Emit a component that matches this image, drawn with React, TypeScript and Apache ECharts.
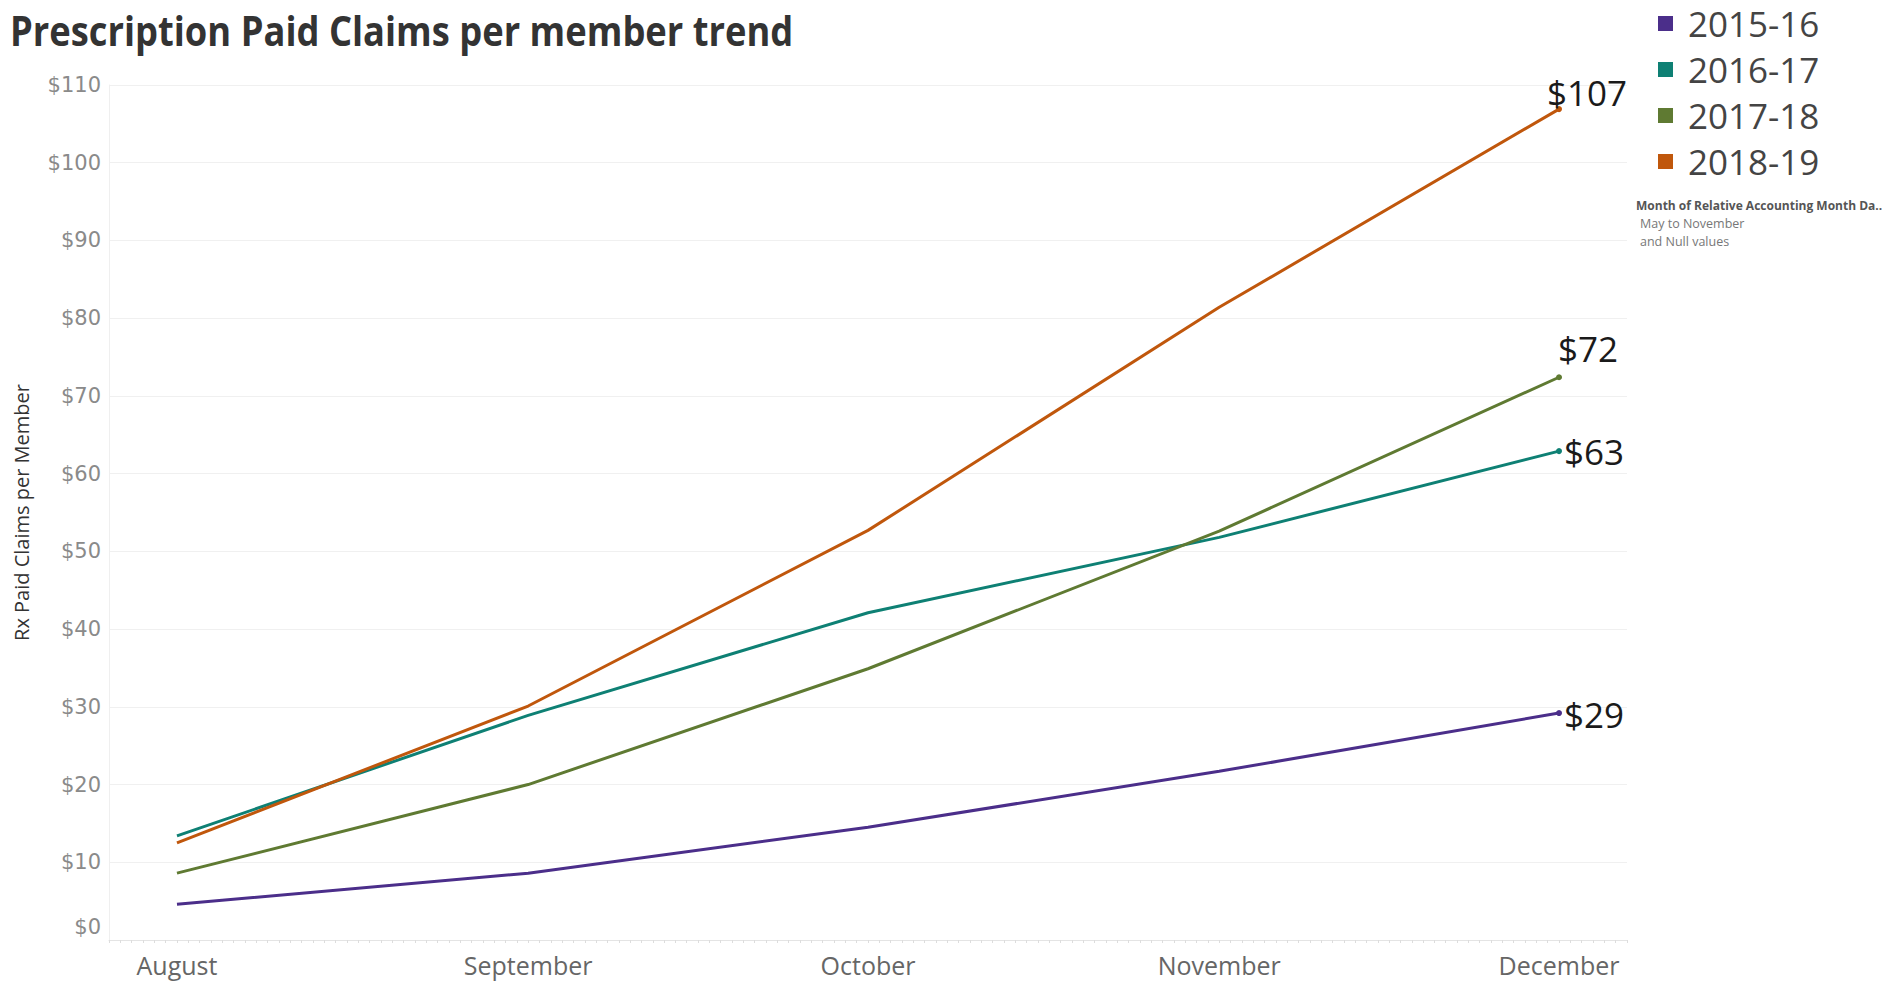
import React, { useEffect, useRef } from "react";
import * as echarts from "echarts";

const titleText = "Prescription Paid Claims per member trend";
const yAxisName = "Rx Paid Claims per Member";
const months = ["August", "September", "October", "November", "December"];
// day offset of the first of each month, counted from 1 August
const dayOffsets = [0, 31, 61, 92, 122];
const seasons = ["2015-16", "2016-17", "2017-18", "2018-19"];
const colors = ["#4b2e8a", "#0e8074", "#5f7a32", "#c0570c"];
const values2015 = [4.6, 8.6, 14.5, 21.7, 29.2];
const values2016 = [13.4, 28.9, 42.1, 51.8, 62.9];
const values2017 = [8.6, 20.0, 34.9, 52.6, 72.4];
const values2018 = [12.5, 30.1, 52.7, 81.4, 106.9];
const seriesValues = [values2015, values2016, values2017, values2018];
const yMin = 0;
const yMax = 110;
const yStep = 10;
const legendNote = ["Month of Relative Accounting Month Da..", "May to November", "and Null values"];

// end-label placement per series [dx, dy]
const endLabelOffsets = [
  [-3, 1],
  [-3, 0],
  [-9, -29],
  [-20, -17],
];

export default function App() {
  const ref = useRef<HTMLDivElement>(null);
  useEffect(() => {
    if (!ref.current) return;
    const chart = echarts.init(ref.current, undefined, { renderer: "svg" });
    const last = months.length - 1;
    const series = seasons.map((name, s) => ({
      name,
      type: "line",
      color: colors[s],
      symbol: "circle",
      symbolSize: (_v: any, p: any) => (p.dataIndex === last ? 6 : 0),
      showSymbol: true,
      lineStyle: { width: 3, color: colors[s] },
      itemStyle: { color: colors[s] },
      emphasis: { disabled: true },
      data: seriesValues[s].map((v, i) =>
        i === last
          ? {
              value: [dayOffsets[i], v],
              label: {
                show: true,
                position: "right",
                distance: 5,
                offset: endLabelOffsets[s],
                formatter: "$" + Math.round(v),
                fontFamily: "Open Sans",
                fontSize: 35,
                color: "#1a1a1a",
              },
            }
          : { value: [dayOffsets[i], v] }
      ),
    }));

    chart.setOption({
      animation: false,
      backgroundColor: "#ffffff",
      graphic: [
        {
          type: "text",
          x: 10,
          y: 9,
          scaleX: 0.865,
          style: {
            text: titleText,
            font: "bold 42px 'Open Sans'",
            fill: "#333333",
          },
        },
        {
          type: "text",
          x: 1636,
          y: 199,
          style: { text: legendNote[0], font: "bold 12px 'Open Sans'", fill: "#555555" },
        },
        {
          type: "text",
          x: 1640,
          y: 217,
          style: { text: legendNote[1], font: "12.5px 'Open Sans'", fill: "#777777" },
        },
        {
          type: "text",
          x: 1640,
          y: 235,
          style: { text: legendNote[2], font: "12.5px 'Open Sans'", fill: "#777777" },
        },
      ],
      legend: {
        data: seasons,
        orient: "vertical",
        left: 1653,
        top: 1,
        icon: "rect",
        itemWidth: 15,
        itemHeight: 15,
        itemGap: 11,
        selectedMode: false,
        textStyle: {
          fontFamily: "Open Sans",
          fontSize: 35,
          color: "#444444",
          lineHeight: 32,
          padding: [0, 0, 0, 10],
        },
      },
      grid: { left: 109, right: 275, top: 85, bottom: 42, containLabel: false },
      xAxis: {
        type: "value",
        min: -6,
        max: 128,
        interval: 1,
        axisLine: { show: true, onZero: false, lineStyle: { color: "#e4e4e4", width: 1 } },
        axisTick: { show: true, length: 3, lineStyle: { color: "#dddddd" } },
        splitLine: { show: false },
        axisLabel: {
          customValues: dayOffsets,
          formatter: (v: number) => months[dayOffsets.indexOf(v)] ?? "",
          fontFamily: "Open Sans",
          fontSize: 25,
          color: "#666666",
          margin: 12,
        },
      },
      yAxis: {
        type: "value",
        min: yMin,
        max: yMax,
        interval: yStep,
        name: yAxisName,
        nameLocation: "middle",
        nameRotate: 90,
        nameGap: 78,
        nameTextStyle: { fontFamily: "Open Sans", fontSize: 20, color: "#333333" },
        axisLine: { show: true, onZero: false, lineStyle: { color: "#efefef" } },
        axisTick: { show: false },
        splitLine: { show: true, lineStyle: { color: "#f0f0f0", width: 1 } },
        axisLabel: {
          formatter: (v: number) => (v === yMin ? "{zero|$" + v + "}" : "$" + v),
          fontFamily: "DejaVu Sans",
          fontSize: 21,
          color: "#8a8a8a",
          margin: 8,
          rich: {
            zero: {
              fontFamily: "DejaVu Sans",
              fontSize: 21,
              color: "#8a8a8a",
              padding: [0, 0, 26, 0],
            },
          },
        },
      },
      series,
    });
    return () => chart.dispose();
  }, []);
  return (
    <div
      ref={ref}
      style={{ position: "fixed", left: 0, top: 0, width: "1902px", height: "982px" }}
    />
  );
}
